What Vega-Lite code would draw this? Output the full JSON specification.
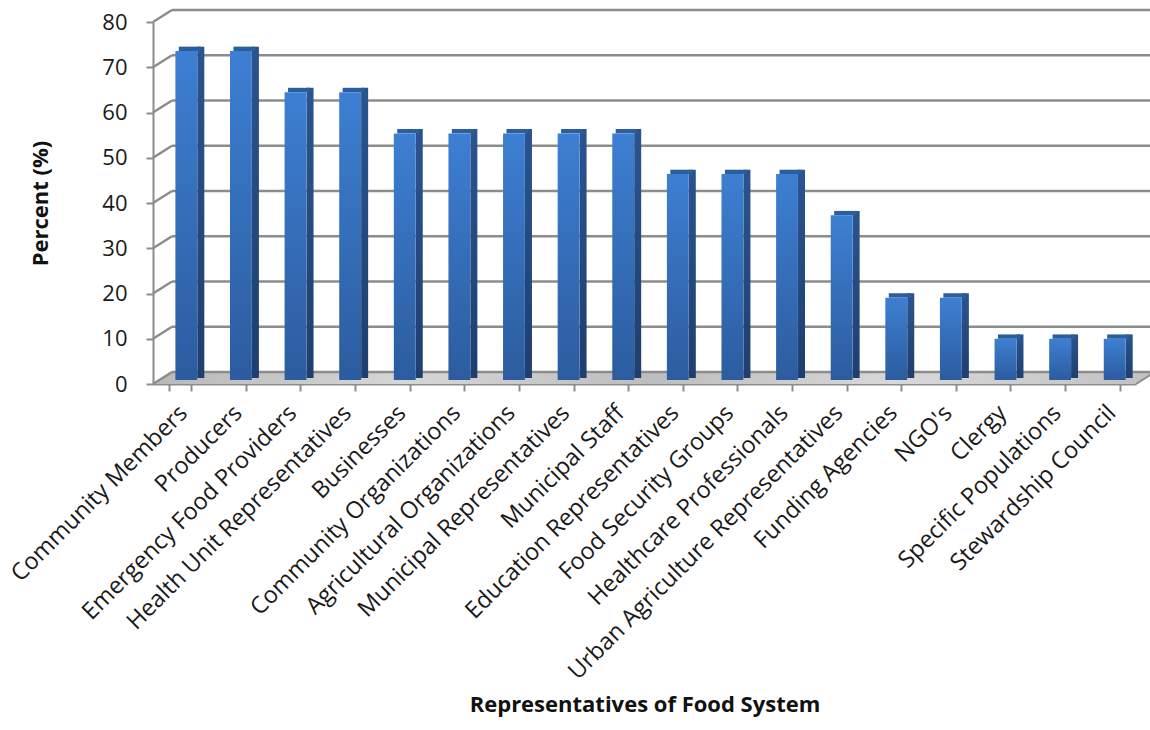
{
  "$schema": "https://vega.github.io/schema/vega-lite/v6.json",
  "width": 983,
  "height": 362,
  "autosize": {"type": "none"},
  "padding": {"left": 153, "top": 22, "right": 14, "bottom": 346},
  "background": "white",
  "config": {
    "font": "Open Sans",
    "view": {"stroke": null},
    "axis": {
      "domainColor": "#8c8c8c",
      "domainWidth": 2,
      "tickColor": "#8c8c8c",
      "tickWidth": 2,
      "tickSize": 7,
      "labelFont": "Open Sans",
      "labelFontSize": 22,
      "labelColor": "#1a1a1a",
      "titleFont": "Open Sans",
      "titleFontSize": 22,
      "titleFontWeight": "bold",
      "titleColor": "#111111",
      "grid": false
    },
    "axisX": {
      "labelFontSize": 23.5,
      "labelAngle": -45,
      "labelAlign": "right",
      "labelBaseline": "middle",
      "labelPadding": 18,
      "labelOffset": 3,
      "labelOverlap": false,
      "labelLimit": 500,
      "tickBand": "extent",
      "titleX": 491.5,
      "titleY": 320,
      "titleAlign": "center",
      "titleBaseline": "middle"
    },
    "axisY": {
      "labelPadding": 19,
      "tickCount": 8,
      "titleAngle": 270,
      "titleX": -113,
      "titleY": 181,
      "titleAlign": "center",
      "titleBaseline": "middle"
    }
  },
  "datasets": {
    "reps": [
      {"rep": "Community Members", "pct": 72.7},
      {"rep": "Producers", "pct": 72.7},
      {"rep": "Emergency Food Providers", "pct": 63.6},
      {"rep": "Health Unit Representatives", "pct": 63.6},
      {"rep": "Businesses", "pct": 54.5},
      {"rep": "Community Organizations", "pct": 54.5},
      {"rep": "Agricultural Organizations", "pct": 54.5},
      {"rep": "Municipal Representatives", "pct": 54.5},
      {"rep": "Municipal Staff", "pct": 54.5},
      {"rep": "Education Representatives", "pct": 45.5},
      {"rep": "Food Security Groups", "pct": 45.5},
      {"rep": "Healthcare Professionals", "pct": 45.5},
      {"rep": "Urban Agriculture Representatives", "pct": 36.4},
      {"rep": "Funding Agencies", "pct": 18.2},
      {"rep": "NGO's", "pct": 18.2},
      {"rep": "Clergy", "pct": 9.1},
      {"rep": "Specific Populations", "pct": 9.1},
      {"rep": "Stewardship Council", "pct": 9.1}
    ],
    "levels": [
      {"level": 0}, {"level": 10}, {"level": 20}, {"level": 30}, {"level": 40},
      {"level": 50}, {"level": 60}, {"level": 70}, {"level": 80}
    ],
    "floor": [{"level": 0}]
  },
  "encoding": {
    "y": {"type": "quantitative", "title": "Percent (%)", "scale": {"domain": [0, 80], "nice": false}}
  },
  "layer": [
    {
      "data": {"name": "floor"},
      "mark": {"type": "rect", "xOffset": 2.4, "x2Offset": 2.4, "yOffset": 0, "y2Offset": -3, "color": {"gradient": "linear", "x1": 0, "y1": 0, "x2": 1, "y2": 0, "stops": [{"offset": 0, "color": "#b9b9b9"}, {"offset": 0.25, "color": "#d6d6d6"}, {"offset": 0.5, "color": "#bdbdbd"}, {"offset": 0.75, "color": "#d8d8d8"}, {"offset": 1, "color": "#c2c2c2"}]}},
      "encoding": {"x": {"value": 0}, "x2": {"value": "width"}, "y": {"field": "level"}, "y2": {"field": "level"}}
    },
    {
      "data": {"name": "floor"},
      "mark": {"type": "rect", "xOffset": 7.1, "x2Offset": 7.1, "yOffset": -3, "y2Offset": -6, "color": {"gradient": "linear", "x1": 0, "y1": 0, "x2": 1, "y2": 0, "stops": [{"offset": 0, "color": "#b9b9b9"}, {"offset": 0.25, "color": "#d6d6d6"}, {"offset": 0.5, "color": "#bdbdbd"}, {"offset": 0.75, "color": "#d8d8d8"}, {"offset": 1, "color": "#c2c2c2"}]}},
      "encoding": {"x": {"value": 0}, "x2": {"value": "width"}, "y": {"field": "level"}, "y2": {"field": "level"}}
    },
    {
      "data": {"name": "floor"},
      "mark": {"type": "rect", "xOffset": 11.9, "x2Offset": 11.9, "yOffset": -6, "y2Offset": -9, "color": {"gradient": "linear", "x1": 0, "y1": 0, "x2": 1, "y2": 0, "stops": [{"offset": 0, "color": "#b9b9b9"}, {"offset": 0.25, "color": "#d6d6d6"}, {"offset": 0.5, "color": "#bdbdbd"}, {"offset": 0.75, "color": "#d8d8d8"}, {"offset": 1, "color": "#c2c2c2"}]}},
      "encoding": {"x": {"value": 0}, "x2": {"value": "width"}, "y": {"field": "level"}, "y2": {"field": "level"}}
    },
    {
      "data": {"name": "floor"},
      "mark": {"type": "rect", "xOffset": 16.6, "x2Offset": 16.6, "yOffset": -9, "y2Offset": -12, "color": {"gradient": "linear", "x1": 0, "y1": 0, "x2": 1, "y2": 0, "stops": [{"offset": 0, "color": "#b9b9b9"}, {"offset": 0.25, "color": "#d6d6d6"}, {"offset": 0.5, "color": "#bdbdbd"}, {"offset": 0.75, "color": "#d8d8d8"}, {"offset": 1, "color": "#c2c2c2"}]}},
      "encoding": {"x": {"value": 0}, "x2": {"value": "width"}, "y": {"field": "level"}, "y2": {"field": "level"}}
    },
    {
      "data": {"name": "floor"},
      "mark": {"type": "rule", "color": "#8c8c8c", "strokeWidth": 2, "x2Offset": 19, "y2Offset": -12},
      "encoding": {"x": {"value": "width"}, "x2": {"value": "width"}, "y": {"field": "level"}, "y2": {"field": "level"}}
    },
    {
      "data": {"name": "levels"},
      "mark": {"type": "rule", "color": "#8c8c8c", "strokeWidth": 2.5, "xOffset": 19, "x2Offset": 19, "yOffset": -12, "y2Offset": -12},
      "encoding": {"x": {"value": 0}, "x2": {"value": "width"}, "y": {"field": "level"}, "y2": {"field": "level"}}
    },
    {
      "data": {"name": "levels"},
      "mark": {"type": "rule", "color": "#8c8c8c", "strokeWidth": 2.5, "x2Offset": 19, "y2Offset": -12},
      "encoding": {"x": {"value": 0}, "x2": {"value": 0}, "y": {"field": "level"}, "y2": {"field": "level"}}
    },
    {
      "data": {"name": "reps"},
      "mark": {
        "type": "bar",
        "width": 7,
        "xOffset": 20.5,
        "yOffset": -8.4,
        "y2Offset": -6,
        "color": {"gradient": "linear", "x1": 0, "y1": 0, "x2": 0, "y2": 1, "stops": [{"offset": 0, "color": "#2a5490"}, {"offset": 1, "color": "#1e3f6e"}]}
      },
      "encoding": {
        "x": {"field": "rep", "type": "nominal", "sort": null, "title": "Representatives of Food System", "scale": {"paddingInner": 0.6, "paddingOuter": 0.3}},
        "y": {"field": "pct"},
        "y2": {"datum": 0}
      }
    },
    {
      "data": {"name": "reps"},
      "mark": {"type": "bar", "width": 22, "xOffset": 9.5, "yOffset": -8.4, "y2Offset": -4, "color": "#2c5e9f"},
      "encoding": {
        "x": {"field": "rep", "type": "nominal", "sort": null, "title": "Representatives of Food System", "scale": {"paddingInner": 0.6, "paddingOuter": 0.3}},
        "y": {"field": "pct"},
        "y2": {"field": "pct"}
      }
    },
    {
      "data": {"name": "reps"},
      "mark": {
        "type": "bar",
        "xOffset": 6,
        "yOffset": -4,
        "y2Offset": -4,
        "color": {"gradient": "linear", "x1": 0, "y1": 0, "x2": 0, "y2": 1, "stops": [{"offset": 0, "color": "#3d7fd2"}, {"offset": 1, "color": "#2c5c9f"}]}
      },
      "encoding": {
        "x": {"field": "rep", "type": "nominal", "sort": null, "title": "Representatives of Food System", "scale": {"paddingInner": 0.6, "paddingOuter": 0.3}},
        "y": {"field": "pct"},
        "y2": {"datum": 0}
      }
    }
  ]
}
